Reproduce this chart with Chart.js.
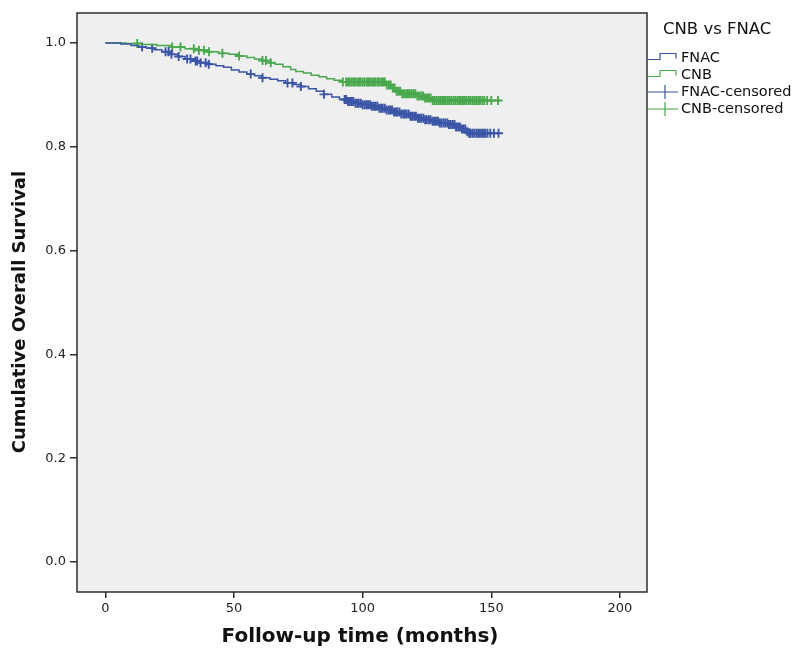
<!DOCTYPE html>
<html>
<head>
<meta charset="utf-8">
<title>CNB vs FNAC</title>
<script src="https://cdn.jsdelivr.net/npm/chart.js@4/dist/chart.umd.min.js"></script>
<style>
  html, body { margin: 0; padding: 0; background: #fff; }
  #km { display: block; }
</style>
</head>
<body>
<canvas id="km" width="794" height="652"></canvas>
<script>
// Kaplan-Meier steps: month of the event and survival after it
const fnacTimes = [0, 6, 10, 13, 16, 19, 22, 25, 28, 31, 34, 37, 40, 43, 46, 49, 52, 55, 58, 61, 64, 67, 70, 73, 76, 79, 82, 85, 88, 91, 94, 97, 100, 103, 106, 109, 112, 115, 118, 121, 124, 127, 130, 133, 136, 138, 140, 141];
const fnacSurv  = [1.0, 0.998, 0.995, 0.992, 0.990, 0.987, 0.983, 0.978, 0.974, 0.969, 0.965, 0.962, 0.959, 0.956, 0.953, 0.948, 0.944, 0.940, 0.937, 0.933, 0.930, 0.927, 0.923, 0.920, 0.916, 0.912, 0.907, 0.901, 0.896, 0.891, 0.887, 0.884, 0.881, 0.878, 0.874, 0.871, 0.867, 0.863, 0.859, 0.855, 0.852, 0.849, 0.846, 0.843, 0.838, 0.834, 0.829, 0.826];
const fnacEnd = 152.8;

const cnbTimes = [0, 8, 14, 20, 26, 31, 35, 40, 44, 48, 52, 55, 58, 61, 64, 66, 69, 72, 74, 77, 80, 83, 86, 89, 92, 109, 111, 113, 115, 121, 124, 127];
const cnbSurv  = [1.0, 0.999, 0.997, 0.995, 0.992, 0.989, 0.986, 0.983, 0.980, 0.978, 0.975, 0.972, 0.969, 0.966, 0.962, 0.959, 0.954, 0.949, 0.945, 0.942, 0.938, 0.935, 0.931, 0.928, 0.925, 0.919, 0.913, 0.907, 0.902, 0.898, 0.894, 0.889];
const cnbEnd = 152.6;

// censored follow-up times (months)
const fnacCensored = [14.3, 18.2, 23.4, 24.6, 25.7, 28.5, 31.8, 33.1, 35.1, 35.7, 37.0, 39.0, 40.2, 56.5, 61.1, 70.8, 72.7, 76.0, 85.0,
  93.0, 93.6, 94.3, 95.1, 95.8, 96.4, 97.2, 97.9, 98.5, 99.3, 100.0, 100.8, 101.5, 102.1, 102.9, 103.6, 104.4, 105.0, 105.7, 106.5,
  107.2, 107.8, 108.6, 109.3, 110.1, 110.7, 111.4, 112.2, 112.9, 113.5, 114.3, 115.0, 115.8, 116.4, 117.1, 117.9, 118.6, 119.2,
  120.0, 120.7, 121.5, 122.1, 122.8, 123.6, 124.3, 124.9, 125.7, 126.4, 127.2, 127.8, 128.5, 129.3, 130.0, 130.6, 131.4, 132.1,
  132.9, 133.5, 134.2, 135.0, 135.7, 136.3, 137.1, 137.8, 138.6, 139.2, 139.9, 140.7, 141.4, 142.0, 142.8, 143.5, 144.3, 144.9,
  145.6, 146.4, 147.1, 147.7, 148.5, 149.6, 151.0, 152.8];
const cnbCensored = [12.4, 26.0, 29.2, 34.4, 36.4, 38.3, 40.3, 45.5, 52.0, 61.1, 62.4, 64.3, 92.3,
  93.6, 94.3, 95.0, 95.8, 96.5, 97.1, 97.9, 98.6, 99.2, 100.0, 100.7, 101.5, 102.1, 102.8, 103.6, 104.3, 104.9, 105.7, 106.4,
  107.2, 107.9, 108.6, 109.4, 110.2, 110.9, 111.7, 112.4, 113.2, 113.9, 114.6, 115.4, 116.1, 116.9, 117.6, 118.3, 119.1, 119.8,
  120.5, 121.3, 122.0, 122.8, 123.5, 124.2, 125.0, 125.7, 126.4, 127.2, 127.9, 128.6, 129.4, 130.1, 130.9, 131.6, 132.3, 133.1,
  133.8, 134.5, 135.3, 136.0, 136.8, 137.5, 138.2, 139.0, 139.7, 140.4, 141.2, 141.9, 142.7, 143.4, 144.1, 144.9, 145.6, 146.5,
  147.3, 148.4, 150.0, 152.6];

const xTicks = [0, 50, 100, 150, 200];
const yTicks = [0.0, 0.2, 0.4, 0.6, 0.8, 1.0];

const BLUE = '#3b55a6';
const GREEN = '#48a84c';
const FONT = '"DejaVu Sans", Verdana, sans-serif';

function stepPoints(times, surv, end) {
  const pts = times.map((t, i) => ({ x: t, y: surv[i] }));
  pts.push({ x: end, y: surv[surv.length - 1] });
  return pts;
}

// survival level of the curve at time t
function survAt(times, surv, t) {
  let s = surv[0];
  for (let i = 0; i < times.length; i++) {
    if (times[i] <= t) s = surv[i];
  }
  return s;
}

function censorPoints(list, times, surv) {
  return list.map(t => ({ x: t, y: survAt(times, surv, t) }));
}

const plotFrame = {
  id: 'plotFrame',
  beforeDraw(chart) {
    const a = chart.chartArea, ctx = chart.ctx;
    ctx.save();
    ctx.fillStyle = '#efefef';
    ctx.fillRect(a.left, a.top, a.right - a.left, a.bottom - a.top);
    ctx.restore();
  },
  afterDraw(chart) {
    const a = chart.chartArea, ctx = chart.ctx;
    ctx.save();
    ctx.strokeStyle = '#2e2e2e';
    ctx.lineWidth = 1.5;
    ctx.strokeRect(a.left, a.top, a.right - a.left, a.bottom - a.top);

    // axis titles
    ctx.fillStyle = '#111';
    ctx.font = 'bold 20px ' + FONT;
    ctx.textAlign = 'center';
    ctx.textBaseline = 'middle';
    ctx.fillText('Follow-up time (months)', 360, 637);
    ctx.translate(20, 312);
    ctx.rotate(-Math.PI / 2);
    ctx.font = 'bold 18px ' + FONT;
    ctx.fillText('Cumulative Overall Survival', 0, 0);
    ctx.restore();

    // legend
    ctx.save();
    ctx.fillStyle = '#111';
    ctx.textAlign = 'left';
    ctx.textBaseline = 'middle';
    ctx.font = '16.5px ' + FONT;
    ctx.fillText('CNB vs FNAC', 663, 30);
    ctx.font = '14.5px ' + FONT;
    const rows = [
      { label: 'FNAC', color: BLUE, step: true, y: 58 },
      { label: 'CNB', color: GREEN, step: true, y: 75 },
      { label: 'FNAC-censored', color: BLUE, step: false, y: 92 },
      { label: 'CNB-censored', color: GREEN, step: false, y: 109 }
    ];
    rows.forEach(r => {
      ctx.strokeStyle = r.color;
      ctx.lineWidth = 1.2;
      ctx.beginPath();
      if (r.step) {
        ctx.moveTo(648, r.y + 1.5);
        ctx.lineTo(660, r.y + 1.5);
        ctx.lineTo(660, r.y - 4.5);
        ctx.lineTo(676, r.y - 4.5);
        ctx.lineTo(676, r.y + 0.5);
      } else {
        ctx.moveTo(648, r.y);
        ctx.lineTo(678, r.y);
        ctx.moveTo(665, r.y - 7);
        ctx.lineTo(665, r.y + 7);
      }
      ctx.stroke();
      ctx.fillText(r.label, 681, r.y);
    });
    ctx.restore();
  }
};

new Chart(document.getElementById('km'), {
  type: 'line',
  data: {
    datasets: [
      {
        label: 'FNAC',
        data: stepPoints(fnacTimes, fnacSurv, fnacEnd),
        borderColor: BLUE,
        borderWidth: 1.5,
        stepped: 'before',
        pointRadius: 0,
        fill: false
      },
      {
        label: 'CNB',
        data: stepPoints(cnbTimes, cnbSurv, cnbEnd),
        borderColor: GREEN,
        borderWidth: 1.5,
        stepped: 'before',
        pointRadius: 0,
        fill: false
      },
      {
        label: 'FNAC-censored',
        data: censorPoints(fnacCensored, fnacTimes, fnacSurv),
        showLine: false,
        pointStyle: 'cross',
        pointRadius: 4.5,
        pointBorderWidth: 1.9,
        pointBorderColor: BLUE,
        borderColor: BLUE
      },
      {
        label: 'CNB-censored',
        data: censorPoints(cnbCensored, cnbTimes, cnbSurv),
        showLine: false,
        pointStyle: 'cross',
        pointRadius: 4.5,
        pointBorderWidth: 1.9,
        pointBorderColor: GREEN,
        borderColor: GREEN
      }
    ]
  },
  options: {
    responsive: false,
    animation: false,
    devicePixelRatio: 1,
    events: [],
    layout: { padding: { top: 13, right: 147, left: 0, bottom: 0 } },
    plugins: {
      legend: { display: false },
      tooltip: { enabled: false }
    },
    scales: {
      x: {
        type: 'linear',
        min: -11,
        max: 210.5,
        afterBuildTicks: scale => { scale.ticks = xTicks.map(v => ({ value: v })); },
        afterFit: scale => { scale.height = 60; },
        border: { display: false },
        grid: { drawOnChartArea: false, drawTicks: true, tickLength: 6, color: '#2e2e2e', lineWidth: 1.5 },
        ticks: { color: '#222', font: { family: FONT, size: 13 }, padding: 3, maxRotation: 0 }
      },
      y: {
        type: 'linear',
        min: -0.0577,
        max: 1.0577,
        afterBuildTicks: scale => { scale.ticks = yTicks.map(v => ({ value: v })); },
        afterFit: scale => { scale.width = 77; },
        border: { display: false },
        grid: { drawOnChartArea: false, drawTicks: true, tickLength: 7, color: '#2e2e2e', lineWidth: 1.5 },
        ticks: { color: '#222', font: { family: FONT, size: 13 }, padding: 4, callback: v => v.toFixed(1) }
      }
    }
  },
  plugins: [plotFrame]
});
</script>
</body>
</html>
